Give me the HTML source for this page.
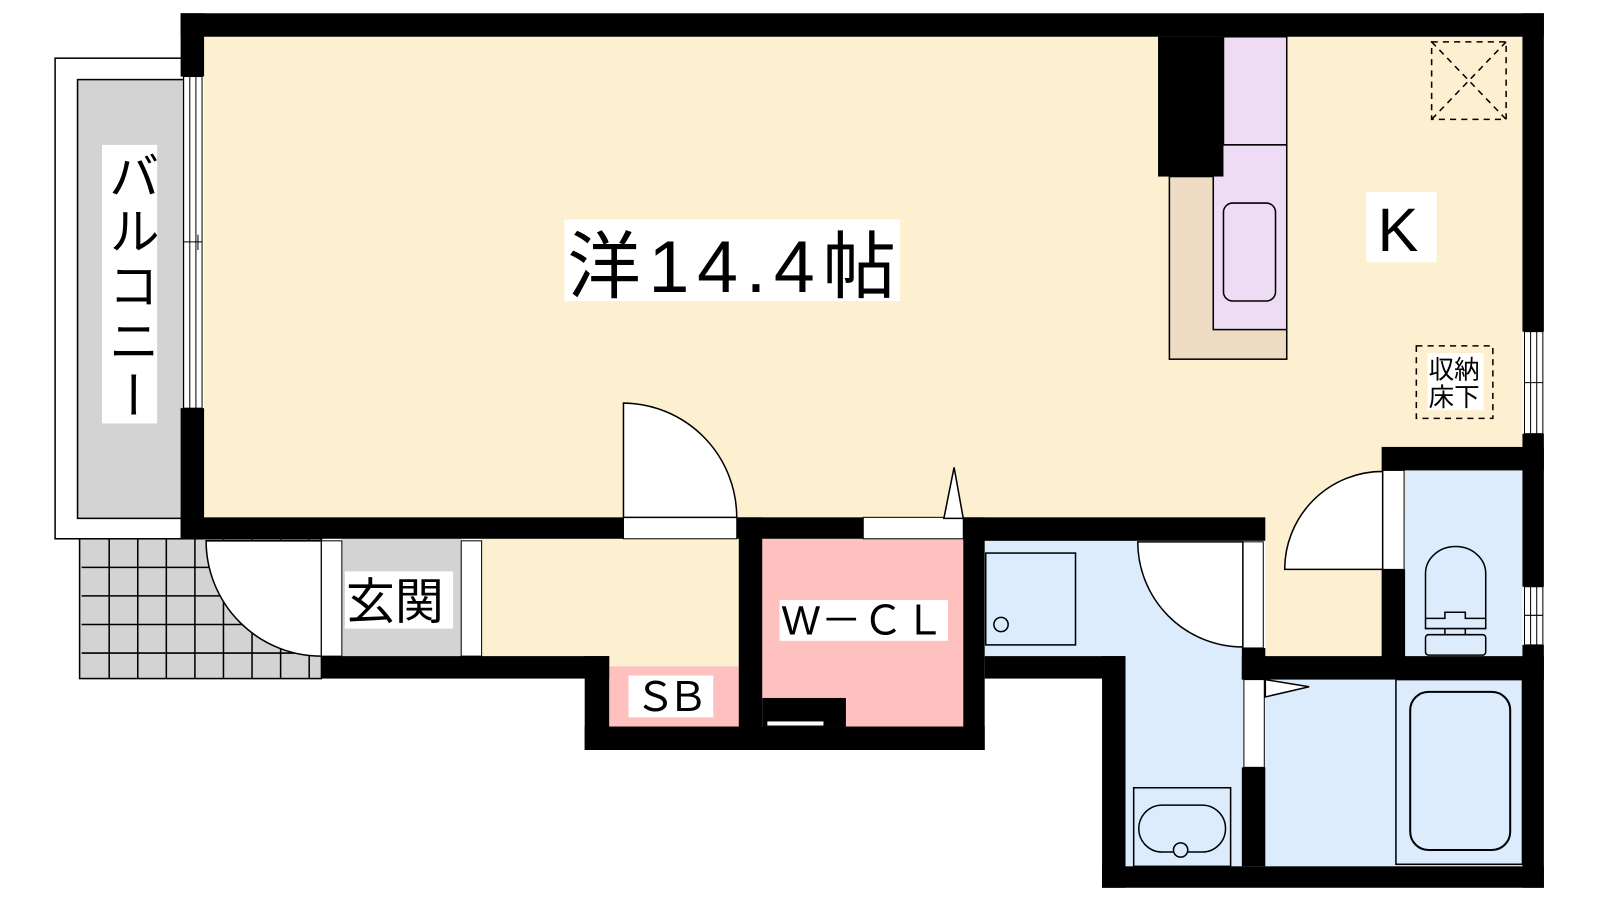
<!DOCTYPE html>
<html><head><meta charset="utf-8"><style>
html,body{margin:0;padding:0;background:#fff;width:1600px;height:900px;overflow:hidden}
svg{display:block}
text{font-family:"Liberation Sans","Noto Sans CJK JP",sans-serif;fill:#000}
</style></head><body>
<svg width="1600" height="900" viewBox="0 0 1568 882" xmlns="http://www.w3.org/2000/svg">
<!-- balcony -->
<rect x="54" y="57" width="126" height="471" fill="#fff" stroke="#000" stroke-width="1.5"/>
<rect x="76" y="78" width="104" height="430" fill="#d3d3d3" stroke="#000" stroke-width="1.5"/>
<rect x="100" y="142" width="54" height="273" fill="#fff"/>
<text x="127" y="147" font-size="50" style="writing-mode:vertical-rl" textLength="265" lengthAdjust="spacing">バルコニー</text>
<!-- floors -->
<rect x="200" y="36" width="1292" height="472" fill="#fdf0d0"/>
<rect x="472" y="528" width="252" height="125" fill="#fdf0d0"/>
<rect x="1240" y="508" width="115" height="136" fill="#fdf0d0"/>
<rect x="335" y="528" width="117" height="115" fill="#d3d3d3"/>
<rect x="747" y="528" width="197" height="184" fill="#ffc0c0"/>
<rect x="597" y="653" width="127" height="59" fill="#ffc0c0"/>
<rect x="965" y="528" width="253" height="115" fill="#dcecfd"/>
<rect x="1103" y="528" width="115" height="322" fill="#dcecfd"/>
<rect x="1377" y="461" width="115" height="182" fill="#dcecfd"/>
<rect x="1240" y="666" width="252" height="184" fill="#dcecfd"/>
<!-- entrance tiles -->
<rect x="78" y="528" width="237" height="137" fill="#d3d3d3" stroke="#000" stroke-width="1.5"/>
<g stroke="#000" stroke-width="1.5">
<line x1="107" y1="528" x2="107" y2="665"/><line x1="135" y1="528" x2="135" y2="665"/><line x1="163" y1="528" x2="163" y2="665"/><line x1="191" y1="528" x2="191" y2="665"/><line x1="219" y1="528" x2="219" y2="665"/><line x1="247" y1="528" x2="247" y2="665"/><line x1="275" y1="528" x2="275" y2="665"/><line x1="303" y1="528" x2="303" y2="665"/>
<line x1="80" y1="556" x2="315" y2="556"/><line x1="80" y1="584" x2="315" y2="584"/><line x1="80" y1="612" x2="315" y2="612"/><line x1="80" y1="640" x2="315" y2="640"/>
</g>
<path d="M315 530 L202 530 A113 113 0 0 0 315 643 Z" fill="#fff" stroke="#000" stroke-width="1.5"/>
<rect x="315" y="530" width="20" height="113" fill="#fff" stroke="#000" stroke-width="1"/>
<rect x="452" y="530" width="20" height="113" fill="#fff" stroke="#000" stroke-width="1"/>
<rect x="338" y="560" width="106" height="56" fill="#fff"/>
<text x="339" y="606" font-size="48">玄関</text>
<!-- walls -->
<g fill="#000">
<rect x="177" y="13" width="1336" height="23"/>
<rect x="177" y="13" width="23" height="62"/>
<rect x="177" y="400" width="23" height="128"/>
<rect x="177" y="507" width="434" height="21"/>
<rect x="722" y="507" width="124" height="21"/>
<rect x="944" y="507" width="296" height="23"/>
<rect x="724" y="507" width="23" height="228"/>
<rect x="944" y="507" width="21" height="228"/>
<rect x="315" y="643" width="282" height="22"/>
<rect x="573" y="643" width="24" height="92"/>
<rect x="573" y="712" width="392" height="23"/>
<rect x="747" y="684" width="82" height="28"/>
<rect x="965" y="643" width="138" height="22"/>
<rect x="1080" y="643" width="23" height="227"/>
<rect x="1080" y="849" width="433" height="21"/>
<rect x="1217" y="635" width="23" height="31"/>
<rect x="1217" y="643" width="296" height="23"/>
<rect x="1217" y="752" width="23" height="97"/>
<rect x="1354" y="438" width="159" height="23"/>
<rect x="1354" y="558" width="23" height="90"/>
<rect x="1492" y="13" width="21" height="312"/>
<rect x="1492" y="425" width="21" height="150"/>
<rect x="1492" y="632" width="21" height="238"/>
<rect x="1135" y="36" width="64" height="137"/>
</g>
<rect x="752" y="707" width="55" height="4" fill="#fff"/>
<!-- windows -->
<g fill="#fff" stroke="#000" stroke-width="1">
<rect x="180" y="75" width="18" height="325"/>
<rect x="1494" y="325" width="18" height="100"/>
<rect x="1494" y="575" width="18" height="57"/>
</g>
<g stroke="#000" stroke-width="1">
<line x1="186" y1="75" x2="186" y2="400"/><line x1="192" y1="75" x2="192" y2="400"/><line x1="180" y1="237" x2="198" y2="237"/><line x1="194" y1="230" x2="194" y2="245"/>
<line x1="1500" y1="325" x2="1500" y2="425"/><line x1="1506" y1="325" x2="1506" y2="425"/><line x1="1494" y1="375" x2="1512" y2="375"/>
<line x1="1500" y1="575" x2="1500" y2="632"/><line x1="1506" y1="575" x2="1506" y2="632"/><line x1="1494" y1="603" x2="1512" y2="603"/>
</g>
<!-- doors -->
<rect x="611" y="507" width="111" height="21" fill="#fff" stroke="#000" stroke-width="1"/>
<path d="M611 507 L611 395 A112 112 0 0 1 722 507 Z" fill="#fff" stroke="#000" stroke-width="1.5"/>
<rect x="846" y="507" width="98" height="21" fill="#fff" stroke="#000" stroke-width="1"/>
<path d="M925 508 L935 458 L944 508 Z" fill="#fff" stroke="#000" stroke-width="1.5"/>
<rect x="1218" y="531" width="20" height="104" fill="#fff" stroke="#000" stroke-width="1"/>
<path d="M1218 531 L1115 531 A103 103 0 0 0 1218 634 Z" fill="#fff" stroke="#000" stroke-width="1.5"/>
<rect x="1355" y="461" width="21" height="97" fill="#fff" stroke="#000" stroke-width="1"/>
<path d="M1355 558 L1259 558 A96 96 0 0 1 1355 462 Z" fill="#fff" stroke="#000" stroke-width="1.5"/>
<rect x="1219" y="666" width="20" height="86" fill="#fff" stroke="#000" stroke-width="1"/>
<path d="M1240 666 L1283 673 L1240 683 Z" fill="#fff" stroke="#000" stroke-width="1.5"/>
<!-- fixtures -->
<rect x="966" y="542" width="88" height="90" fill="none" stroke="#000" stroke-width="1.5"/>
<circle cx="981" cy="612" r="7" fill="none" stroke="#000" stroke-width="1.5"/>
<rect x="1111" y="772" width="95" height="77" fill="none" stroke="#000" stroke-width="1.5"/>
<rect x="1116" y="789" width="85" height="46" rx="23" fill="none" stroke="#000" stroke-width="1.5"/>
<circle cx="1157" cy="833" r="7" fill="#dcecfd" stroke="#000" stroke-width="1.5"/>
<path d="M1397 616 L1397 562 A29 26 0 0 1 1456 562 L1456 616 Z" fill="none" stroke="#000" stroke-width="1.5"/>
<path d="M1397 606 L1416 606 L1416 600 L1436 600 L1436 606 L1456 606" fill="none" stroke="#000" stroke-width="1.5"/>
<line x1="1416" y1="616" x2="1416" y2="622" stroke="#000" stroke-width="1.5"/><line x1="1436" y1="616" x2="1436" y2="622" stroke="#000" stroke-width="1.5"/>
<rect x="1397" y="622" width="59" height="20" rx="3" fill="none" stroke="#000" stroke-width="1.5"/>
<rect x="1368" y="666" width="124" height="181" fill="none" stroke="#000" stroke-width="1.5"/>
<rect x="1382" y="678" width="98" height="155" rx="18" fill="none" stroke="#000" stroke-width="2"/>
<!-- kitchen -->
<rect x="1146" y="173" width="115" height="179" fill="#eeddc4" stroke="#000" stroke-width="1.5"/>
<rect x="1199" y="36" width="62" height="106" fill="#eddcf3" stroke="#000" stroke-width="1.5"/>
<rect x="1189" y="142" width="72" height="181" fill="#eddcf3" stroke="#000" stroke-width="1.5"/>
<rect x="1135" y="36" width="64" height="137" fill="#000"/>
<rect x="1199" y="199" width="51" height="96" rx="9" fill="none" stroke="#000" stroke-width="1.5"/>
<!-- dashed -->
<g fill="none" stroke="#000" stroke-width="1.5" stroke-dasharray="6 5">
<rect x="1403" y="41" width="73" height="76"/>
<line x1="1403" y1="41" x2="1476" y2="117"/><line x1="1476" y1="41" x2="1403" y2="117"/>
<rect x="1388" y="339" width="75" height="71"/>
</g>
<rect x="1399" y="346" width="55" height="56" fill="#fff"/>
<text x="1400" y="371" font-size="25">収納</text>
<text x="1400" y="398" font-size="25">床下</text>
<!-- labels -->
<rect x="553" y="215" width="329" height="80" fill="#fff"/>
<text x="556" y="286" font-size="72" textLength="322" lengthAdjust="spacing">洋14.4帖</text>
<rect x="1339" y="188" width="69" height="69" fill="#fff"/>
<text x="1350" y="246" font-size="60">K</text>
<rect x="764" y="588" width="165" height="40" fill="#fff"/>
<text x="766" y="622" font-size="40" textLength="160" lengthAdjust="spacing">W－ＣＬ</text>
<rect x="616" y="662" width="83" height="41" fill="#fff"/>
<text x="622" y="697" font-size="40" textLength="72" lengthAdjust="spacing">ＳＢ</text>
</svg>
</body></html>
